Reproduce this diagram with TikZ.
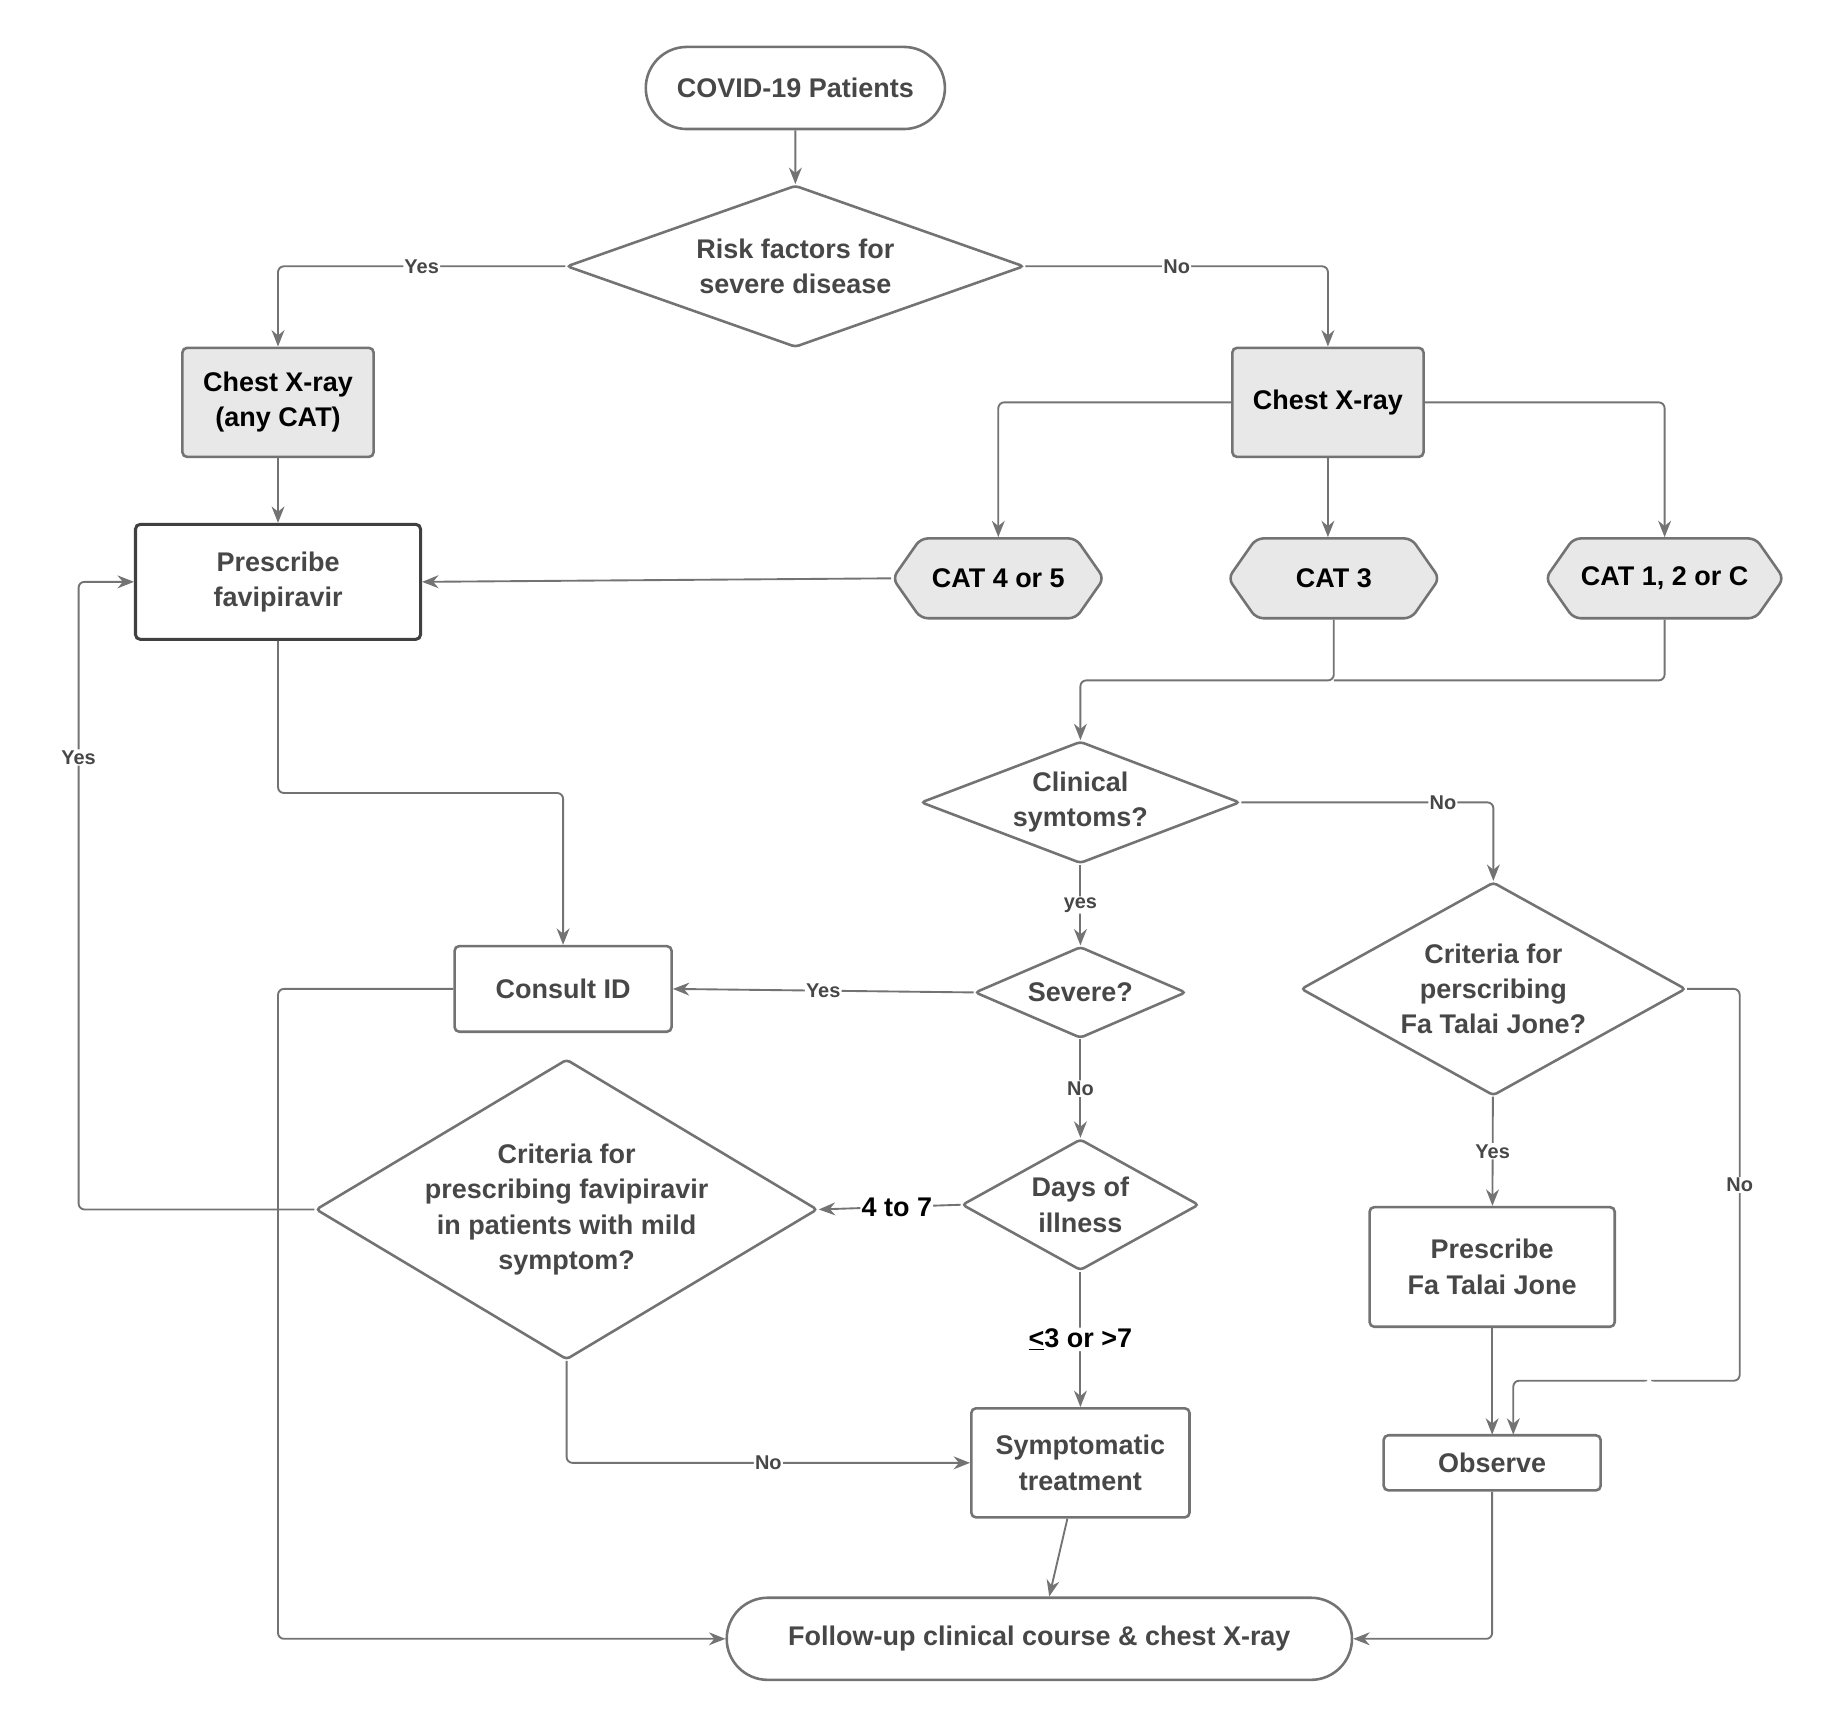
\documentclass[tikz,border=0pt]{standalone}
\usepackage{fontspec}
\setmainfont{Liberation Sans}
\usetikzlibrary{shapes.geometric,shapes.misc,shapes.symbols,arrows.meta}
\definecolor{ln}{gray}{0.45}
\definecolor{tx}{gray}{0.28}
\definecolor{fl}{gray}{0.91}
\begin{document}
\begin{tikzpicture}[x=1pt,y=-1pt,
  every node/.style={font=\fontsize{23}{30}\selectfont\bfseries, text=tx, align=center},
  base/.style={draw=ln, line width=2.2pt},
  stad/.style={base, rounded rectangle, inner sep=0},
  box/.style={base, rounded corners=4pt, inner sep=0},
  gbox/.style={box, fill=fl},
  dia/.style={base, diamond, inner sep=0, rounded corners=3pt},
  hex/.style={base, fill=fl, signal, signal to=west and east, signal pointer angle=110, rounded corners=6pt, inner sep=0},
  arr/.style={draw=ln, line width=1.6pt, -{Stealth[length=14pt,width=11pt]}, rounded corners=5pt},
  ln/.style={draw=ln, line width=1.6pt, rounded corners=5pt},
  lab/.style={fill=white, inner sep=1pt, font=\fontsize{17}{20}\selectfont\bfseries, text=tx},
  blab/.style={fill=white, inner sep=1pt, font=\fontsize{23}{26}\selectfont\bfseries, text=black}]
\useasboundingbox (0,0) rectangle (1560,1472);
\node[stad, minimum width=255, minimum height=70] (start) at (678,75) {COVID-19 Patients};
\node[dia, minimum width=390, minimum height=138, aspect=2.8] (risk) at (678,227) {Risk factors for\\severe disease};
\node[gbox, minimum width=163, minimum height=93] (cx1) at (237,343) {\color{black}Chest X-ray\\\color{black}(any CAT)};
\node[gbox, minimum width=163, minimum height=93] (cx2) at (1132,343) {\color{black}Chest X-ray};
\node[box, line width=2.6pt, draw=black!75, minimum width=243, minimum height=98] (fav) at (237,496) {Prescribe\\favipiravir};
\node[hex, minimum width=180, minimum height=68] (c45) at (851,493) {\color{black}CAT 4 or 5};
\node[hex, minimum width=180, minimum height=68] (c3) at (1137,493) {\color{black}CAT 3};
\node[hex, minimum width=203, minimum height=68] (c12) at (1419,493) {\color{black}CAT 1, 2 or C};
\node[dia, minimum width=272, minimum height=104, aspect=2.6] (clin) at (921,684) {Clinical\\symtoms?};
\node[dia, minimum width=328, minimum height=182, aspect=1.8] (ftj) at (1273,843) {Criteria for\\perscribing\\Fa Talai Jone?};
\node[dia, minimum width=180, minimum height=78, aspect=2.3] (sev) at (921,846) {Severe?};
\node[box, minimum width=185, minimum height=73] (cons) at (480,843) {Consult ID};
\node[dia, minimum width=370, minimum height=222, aspect=1.67] (cfav) at (483,1031) {Criteria for\\prescribing favipiravir\\in patients with mild\\symptom?};
\node[dia, minimum width=202, minimum height=112, aspect=1.8] (days) at (921,1027) {Days of\\illness};
\node[box, minimum width=186, minimum height=93] (sym) at (921,1247) {Symptomatic\\treatment};
\node[box, minimum width=209, minimum height=102] (pftj) at (1272,1080) {Prescribe\\Fa Talai Jone};
\node[box, minimum width=185, minimum height=47] (obs) at (1272,1247) {Observe};
\node[stad, minimum width=533, minimum height=70] (fu) at (886,1397) {Follow-up clinical course \& chest X-ray};
\coordinate (j3) at (1137,580);
\draw[arr] (start) -- (risk);
\draw[arr] (risk.west) -| node[lab, pos=0.25] {Yes} (cx1.north);
\draw[arr] (risk.east) -| node[lab, pos=0.25] {No} (cx2.north);
\draw[arr] (cx1) -- (fav);
\draw[arr] (cx2.west) -| (c45.north);
\draw[arr] (cx2) -- (cx2.south |- c3.north);
\draw[arr] (cx2.east) -| (c12.north);
\draw[arr] (c45.west) -- (fav.east);
\draw[arr] (c3.south) -- (j3) -| (clin.north);
\draw[ln] (c12.south) |- (j3);
\draw[arr] (clin.east) -| node[lab, pos=0.4] {No} (ftj.north);
\draw[arr] (clin) -- node[lab] {yes} (sev);
\draw[arr] (sev.west) -- node[lab, pos=0.5] {Yes} (cons.east);
\draw[arr] (sev) -- node[lab] {No} (days);
\draw[arr] (days.west) -- node[blab, pos=0.45] {4 to 7} (cfav.east);
\draw[arr] (days) -- node[blab] {\underline{<}3 or >7} (sym);
\draw[arr] (cfav.west) -- (67,1031) |- node[lab, pos=0.36] {Yes} (fav.west);
\draw[arr] (cfav.south) |- node[lab, pos=0.75] {No} (sym.west);
\draw[arr] (fav.south) |- (480,676) -- (cons.north);
\draw[arr] (cons.west) -| (237,1397) -- (fu.west);
\draw[arr] (sym) -- (fu);
\draw[arr] (ftj) -- node[lab] {Yes} (pftj);
\draw[arr] (ftj.east) -| (1483,1177) -| node[lab, pos=0.2] {} (1290,1223);
\node[lab] at (1483,1010) {No};
\draw[arr] (pftj.south) -- (1272,1223);
\draw[arr] (obs.south) |- (fu.east);
\end{tikzpicture}
\end{document}
